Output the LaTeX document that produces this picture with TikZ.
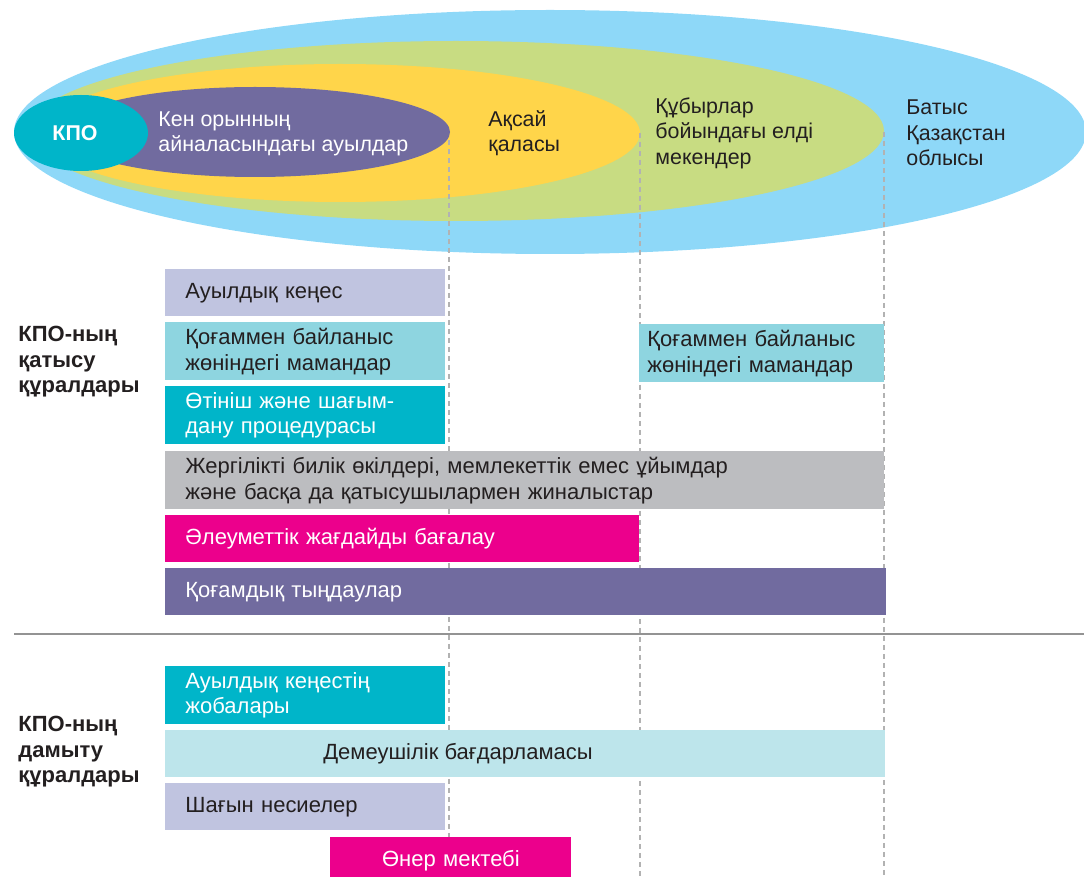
\documentclass[tikz,border=0pt]{standalone}
\usepackage{fontspec}
\setmainfont{Liberation Sans}
\usetikzlibrary{positioning, calc}
\definecolor{areablue}{HTML}{8ED8F8}
\definecolor{areagreen}{HTML}{C8DC82}
\definecolor{areayellow}{HTML}{FFD54A}
\definecolor{areapurple}{HTML}{716B9F}
\definecolor{kpoteal}{HTML}{00B5C9}
\definecolor{boxlavender}{HTML}{C0C4E0}
\definecolor{boxcyan}{HTML}{8ED5E0}
\definecolor{boxgray}{HTML}{BCBDC0}
\definecolor{boxmagenta}{HTML}{EC008C}
\definecolor{boxpale}{HTML}{BDE5EB}
\definecolor{textdark}{HTML}{231F20}
\tikzset{
    zone_text/.style={anchor=west, align=left, font=\fontsize{10.7}{12.7}\selectfont, text=textdark, inner sep=0pt},
    tool/.style={anchor=north west, inner xsep=10pt, inner ysep=0pt, align=left, font=\fontsize{11}{12.8}\selectfont, text=textdark},
    tool_light/.style={tool, text=white},
    group_label/.style={anchor=west, align=left, font=\bfseries\fontsize{11}{12.8}\selectfont, text=textdark, inner sep=0pt},
    guide/.style={draw=gray!60, line width=0.6pt, dash pattern=on 2.5pt off 2pt},
    separator/.style={draw=gray!85, line width=0.8pt}
}

\begin{document}
\begin{tikzpicture}[x=0.5pt, y=-0.5pt]
      \useasboundingbox (0,0) rectangle (1084,877);
      \clip (0,0) rectangle (1084,877);

      % --- Areas around the field ---
      \fill[areablue] (550,132) ellipse (536 and 122);
      \fill[areagreen] (456,131) ellipse (428 and 90);
      \fill[areayellow] (340,133) ellipse (300 and 69);
      \fill[areapurple] (255,132) ellipse (195 and 45);
      \fill[kpoteal] (81,133) ellipse (67 and 38);

      % --- Guides ---
      \coordinate (villages_end) at (449,140);
      \coordinate (town_end) at (640,133);
      \coordinate (pipeline_end) at (884,132);
      \draw[guide] (villages_end) -- (villages_end |- 0,877);
      \draw[guide] (town_end) -- (town_end |- 0,877);
      \draw[guide] (pipeline_end) -- (pipeline_end |- 0,877);

      % --- Area labels ---
      \node (kpo) [font=\bfseries\fontsize{10.7}{12.7}\selectfont, text=white] at (75,133) {КПО};
      \node (villages) [zone_text, text=white] at (158,134) {Кен орынның\\айналасындағы ауылдар};
      \node (town) [zone_text] at (488,133) {Ақсай\\қаласы};
      \node (pipeline) [zone_text] at (655,133) {Құбырлар\\бойындағы елді\\мекендер};
      \node (region) [zone_text] at (906,133) {Батыс\\Қазақстан\\облысы};

      % --- Participation tools ---
      \node (part_label) [group_label] at (18,362) {КПО-ның\\қатысу\\құралдары};
      \node (council) [tool, fill=boxlavender, text width=120pt, minimum height=23.5pt] at (165,269) {Ауылдық кеңес};
      \node (pr_left) [tool, fill=boxcyan, text width=120pt, minimum height=29pt] at (165,322) {Қоғаммен байланыс\\жөніндегі мамандар};
      \node (pr_right) [tool, fill=boxcyan, inner xsep=4pt, text width=114.5pt, minimum height=29pt] at (639,324) {Қоғаммен байланыс\\жөніндегі мамандар};
      \node (complaints) [tool_light, fill=kpoteal, text width=120pt, minimum height=29pt] at (165,386) {Өтініш және шағым-\\дану процедурасы};
      \node (meetings) [tool, fill=boxgray, text width=339.5pt, minimum height=29pt] at (165,451) {Жергілікті билік өкілдері, мемлекеттік емес ұйымдар\\және басқа да қатысушылармен жиналыстар};
      \node (assessment) [tool_light, fill=boxmagenta, text width=217pt, minimum height=23.5pt] at (165,515) {Әлеуметтік жағдайды бағалау};
      \node (hearings) [tool_light, fill=areapurple, text width=340.5pt, minimum height=23.5pt] at (165,568) {Қоғамдық тыңдаулар};

      \draw[separator] (14,634) -- (1084,634);

      % --- Development tools ---
      \node (dev_label) [group_label] at (18,752) {КПО-ның\\дамыту\\құралдары};
      \node (council_projects) [tool_light, fill=kpoteal, text width=120pt, minimum height=29pt] at (165,666) {Ауылдық кеңестің\\жобалары};
      \node (sponsorship) [tool, fill=boxpale, text width=340pt, minimum height=23.5pt] at (165,730) {};
      \node (sponsorship_text) [zone_text, font=\fontsize{11}{12.8}\selectfont, anchor=center] at (458,754) {Демеушілік бағдарламасы};
      \node (microcredit) [tool, fill=boxlavender, text width=120pt, minimum height=23.5pt] at (165,783) {Шағын несиелер};
      \node (art_school) [tool_light, fill=boxmagenta, text width=100.5pt, minimum height=23pt, align=center] at (330,837) {Өнер мектебі};
\end{tikzpicture}
\end{document}
